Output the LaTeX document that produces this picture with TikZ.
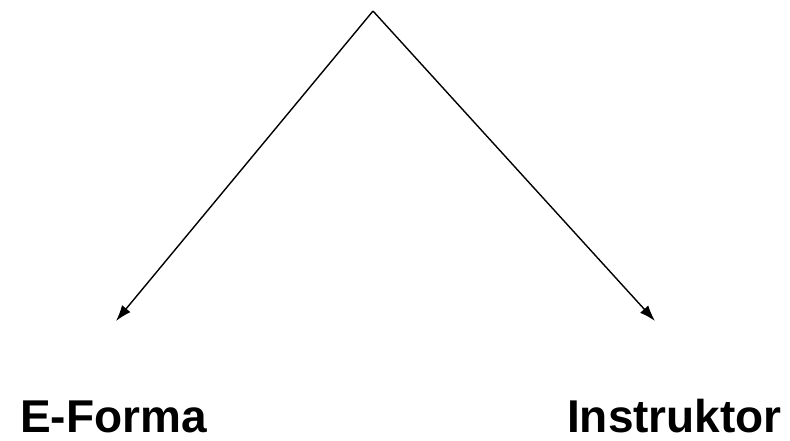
\documentclass[tikz,border=0pt]{standalone}
\usepackage{fontspec}
\setmainfont{Liberation Sans}
\usepackage{tikz}
\usetikzlibrary{positioning,arrows.meta}

\begin{document}
\begin{tikzpicture}[
    x=1pt, y=-1pt,
    label/.style={font=\fontsize{46}{52}\selectfont\bfseries, inner sep=0pt},
    line/.style={draw, -{Latex[length=16pt,width=11pt]}, line width=1.4pt}
]

% Frame
\useasboundingbox (0,0) rectangle (790,440);

% Apex and arrow ends
\coordinate (top) at (373,11);
\coordinate (left_end) at (116,321);
\coordinate (right_end) at (655,321);

% Labels
\node[label, anchor=base west] (eforma) at (20,432) {E-Forma};
\node[label, anchor=base east] (instruktor) at (782,432) {Instruktor};

% Arrows
\draw[line] (top) -- (left_end);
\draw[line] (top) -- (right_end);

\end{tikzpicture}
\end{document}
